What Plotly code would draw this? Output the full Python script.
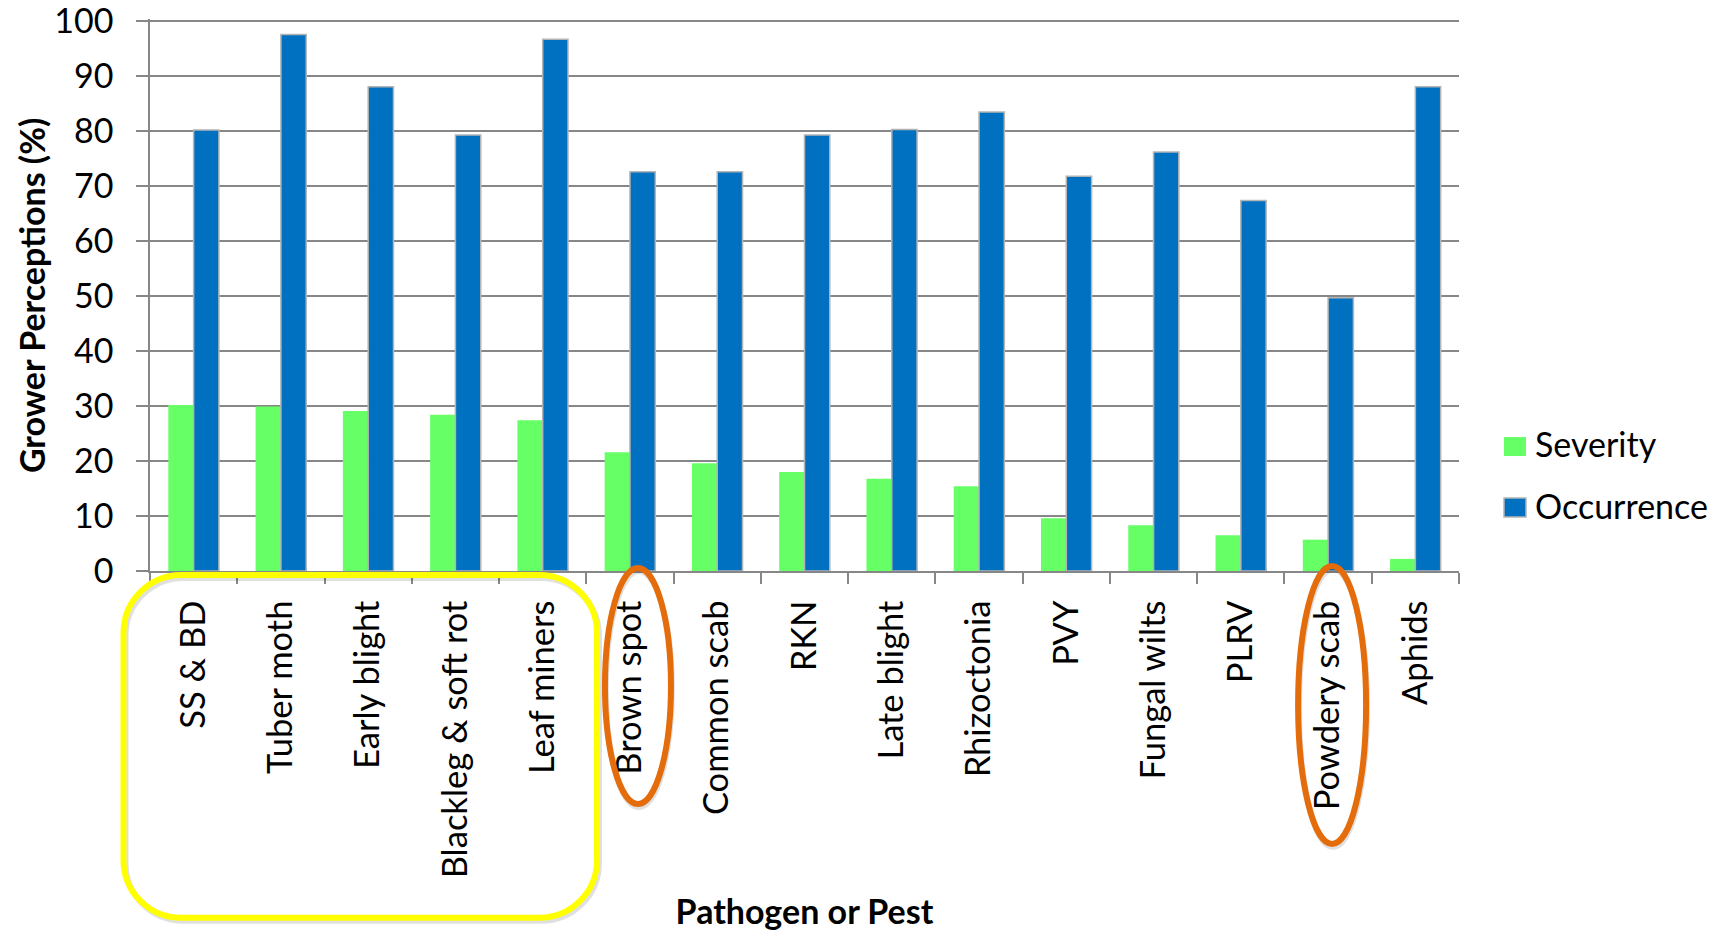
import plotly.graph_objects as go

# Grower survey: perceived severity and occurrence of potato pathogens and pests
categories = ["SS & BD", "Tuber moth", "Early blight", "Blackleg & soft rot",
              "Leaf miners", "Brown spot", "Common scab", "RKN", "Late blight",
              "Rhizoctonia", "PVY", "Fungal wilts", "PLRV", "Powdery scab", "Aphids"]
severity = [30.2, 29.9, 29.1, 28.4, 27.4, 21.6, 19.6, 18.0, 16.8, 15.4,
            9.6, 8.3, 6.5, 5.7, 2.2]
occurrence = [80.2, 97.6, 88.1, 79.3, 96.7, 72.6, 72.6, 79.3, 80.3, 83.5,
              71.8, 76.2, 67.4, 49.7, 88.1]
y_ticks = [0, 10, 20, 30, 40, 50, 60, 70, 80, 90, 100]

GREEN = "#66FF66"
BLUE = "#0070C0"
GRID = "#878787"
FONT = "Lato"

W, H = 1723, 931
Y_MAX = 100.4                     # a little headroom so the 100 gridline is kept
ML, MR, MB = 150, 264, 360
TOP_PX = 21                       # pixel row of the 100 line
PH = (H - MB - TOP_PX) * Y_MAX / 100
MT = H - MB - PH
PW = W - ML - MR
N = len(categories)


def px_x(px):
    return (px - ML) / PW


def px_y(py):
    return (H - MB - py) / PH


def cat_x(i, dx=0.0):
    # paper x of a category centre, with an optional pixel offset
    return (i + 0.5) / N + dx / PW


fig = go.Figure()
fig.add_trace(go.Bar(name="Severity", x=categories, y=severity,
                     marker=dict(color=GREEN, line=dict(width=0)),
                     showlegend=False))
fig.add_trace(go.Bar(name="Occurrence", x=categories, y=occurrence,
                     marker=dict(color=BLUE, line=dict(color="#B4B4B4", width=1.5)),
                     showlegend=False))

shapes = []
annotations = []

# y-axis title
annotations.append(dict(text="<b>Grower Perceptions (%)</b>", xref="paper", yref="paper",
                        x=px_x(31), y=px_y((TOP_PX + H - MB) / 2), textangle=-90,
                        xanchor="center", yanchor="middle", showarrow=False,
                        font=dict(family=FONT, size=34, color="black")))

# legend drawn as swatches + labels
legend_items = [("Severity", GREEN, None, 437, 456, 443),
                ("Occurrence", BLUE, "#B4B4B4", 498, 517, 505)]
for name, col, edge, top, bot, mid in legend_items:
    shapes.append(dict(type="rect", xref="paper", yref="paper",
                       x0=px_x(1504), x1=px_x(1526), y0=px_y(bot), y1=px_y(top),
                       fillcolor=col,
                       line=dict(color=edge or col, width=1.5 if edge else 0)))
    annotations.append(dict(text=name, xref="paper", yref="paper",
                            x=px_x(1533), y=px_y(mid), xanchor="left", yanchor="middle",
                            showarrow=False, font=dict(family=FONT, size=34, color="black")))


# rounded frame around the first five labels
def rounded_rect(x0, x1, y0, y1, r):
    rx, ry = r / PW, r / PH
    X0, X1, Y0, Y1 = px_x(x0), px_x(x1), px_y(y1), px_y(y0)  # Y0 bottom, Y1 top
    k = 0.5523
    return (f"M {X0 + rx},{Y1} L {X1 - rx},{Y1} "
            f"C {X1 - rx + k * rx},{Y1} {X1},{Y1 - ry + k * ry} {X1},{Y1 - ry} "
            f"L {X1},{Y0 + ry} "
            f"C {X1},{Y0 + ry - k * ry} {X1 - rx + k * rx},{Y0} {X1 - rx},{Y0} "
            f"L {X0 + rx},{Y0} "
            f"C {X0 + rx - k * rx},{Y0} {X0},{Y0 + ry - k * ry} {X0},{Y0 + ry} "
            f"L {X0},{Y1 - ry} "
            f"C {X0},{Y1 - ry + k * ry} {X0 + rx - k * rx},{Y1} {X0 + rx},{Y1} Z")


frame = (123.5, 597, 575, 918)
shapes.append(dict(type="path", xref="paper", yref="paper", layer="above",
                   path=rounded_rect(frame[0] + 2, frame[1] + 2, frame[2] + 3, frame[3] + 3, 58),
                   line=dict(color="rgba(0,0,0,0.12)", width=6)))
shapes.append(dict(type="path", xref="paper", yref="paper", layer="above",
                   path=rounded_rect(*frame, 58),
                   line=dict(color="#FFFF00", width=6)))

# ovals around Brown spot and Powdery scab
ovals = [(categories.index("Brown spot"), 8, 686, 33, 118),
         (categories.index("Powdery scab"), 4, 705, 34, 139)]
for idx, dx, cy, rx, ry in ovals:
    cx = cat_x(idx, dx)
    for off, col in ((3, "rgba(0,0,0,0.12)"), (0, "#E46C0A")):
        shapes.append(dict(type="circle", xref="paper", yref="paper", layer="above",
                           x0=cx - (rx - off * 0.3) / PW, x1=cx + (rx + off * 0.3) / PW,
                           y0=px_y(cy + ry + off), y1=px_y(cy - ry + off),
                           line=dict(color=col, width=6)))

fig.update_layout(
    width=W, height=H,
    margin=dict(l=ML, r=MR, t=MT, b=MB, autoexpand=False),
    paper_bgcolor="white", plot_bgcolor="white",
    barmode="group", bargap=0.42, bargroupgap=0,
    font=dict(family=FONT, size=34, color="black"),
    shapes=shapes, annotations=annotations,
    showlegend=False,
    xaxis=dict(
        type="category", tickangle=-90, tickson="boundaries",
        ticks="outside", ticklen=11, tickwidth=1.5, tickcolor=GRID,
        showline=True, linecolor=GRID, linewidth=1.5,
        showgrid=False, automargin=False, ticklabelstandoff=14,
        tickfont=dict(family=FONT, size=34.5, color="black"),
        title=dict(text="<b>Pathogen or Pest</b>", standoff=27,
                   font=dict(family=FONT, size=34, color="black")),
    ),
    yaxis=dict(
        range=[0, Y_MAX], tickvals=y_ticks, ticklabeloverflow="allow",
        ticks="outside", ticklen=12, tickwidth=1.5, tickcolor=GRID,
        showline=True, linecolor=GRID, linewidth=1.5,
        showgrid=True, gridcolor=GRID, gridwidth=1.5, zeroline=False,
        automargin=False, ticklabelstandoff=16,
        tickfont=dict(family=FONT, size=34, color="black"),
    ),
)

fig.write_html("out.html")
